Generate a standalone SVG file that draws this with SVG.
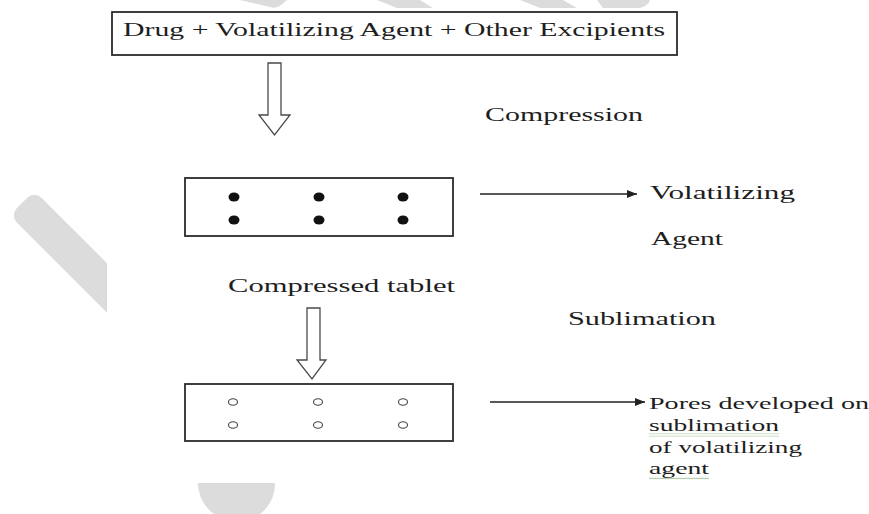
<svg xmlns="http://www.w3.org/2000/svg" width="869" height="514" viewBox="0 0 869 514">
  <style>
    .lbl { font-family: "Liberation Serif", "Times New Roman", serif; font-size: 19px; fill: #1e1e1e; }
    .note { font-family: "Liberation Serif", "Times New Roman", serif; font-size: 17.5px; fill: #1e1e1e; }
    .box { fill: #fff; stroke: #2b2b2b; stroke-width: 1.8; }
    .hollow { fill: #fff; stroke: #4a4a4a; stroke-width: 1.3; stroke-linejoin: miter; }
    .wire { stroke: #222; stroke-width: 1.4; fill: none; }
    .dot { fill: #111; }
    .pore { fill: none; stroke: #444; stroke-width: 1.1; }
    .mark { fill: #dcdcdc; }
  </style>
  <defs>
    <marker id="tip" viewBox="0 0 10 8" refX="10" refY="4" markerUnits="userSpaceOnUse" markerWidth="12" markerHeight="8" orient="auto">
      <path d="M0 0 L10 4 L0 8 Z" fill="#222"/>
    </marker>
    <pattern id="squiggle" patternUnits="userSpaceOnUse" x="649" y="0" width="3" height="3">
      <path d="M0 0.6 L1.5 2.2 L3 0.6" fill="none" stroke="#6f9f60" stroke-width="0.8"/>
    </pattern>
    <clipPath id="leftCut">
      <rect x="0" y="0" width="107" height="514"/>
    </clipPath>
  </defs>

  <rect width="869" height="514" fill="#fff"/>

  <!-- light grey background strokes -->
  <g id="backdrop">
    <g clip-path="url(#leftCut)">
      <rect class="mark" x="0" y="-17.5" width="200" height="35" rx="10" transform="translate(22 203) rotate(45)"/>
    </g>
    <path class="mark" d="M198 483 L275 483 A38.5 38.5 0 0 1 260 514 L214 514 A38.5 38.5 0 0 1 198 483 Z"/>
    <path class="mark" d="M240 0 L287 0 L281 5 Q276 9 270 7 Z"/>
    <path class="mark" d="M377 0 L420 0 L433 8 L397 8 Z"/>
    <path class="mark" d="M520 0 L563 0 L577 8 L540 8 Z"/>
    <path class="mark" d="M597 0 L650 0 Q648 6 640 8 L603 8 Z"/>
  </g>

  <g id="mixture">
    <rect class="box" x="112" y="12" width="565" height="43"/>
    <text class="lbl" x="123" y="36" textLength="542" lengthAdjust="spacingAndGlyphs">Drug + Volatilizing Agent + Other Excipients</text>
  </g>

  <g id="compression-label">
    <text class="lbl" x="485" y="121" textLength="158" lengthAdjust="spacingAndGlyphs">Compression</text>
  </g>

  <g id="compressed-tablet">
    <rect class="box" x="185" y="178" width="268" height="58"/>
    <ellipse class="dot" cx="234" cy="197" rx="5.5" ry="4.5"/>
    <ellipse class="dot" cx="319" cy="197" rx="5.5" ry="4.5"/>
    <ellipse class="dot" cx="403" cy="197" rx="5.5" ry="4.5"/>
    <ellipse class="dot" cx="234" cy="220" rx="5.5" ry="4.5"/>
    <ellipse class="dot" cx="319" cy="220" rx="5.5" ry="4.5"/>
    <ellipse class="dot" cx="403" cy="220" rx="5.5" ry="4.5"/>
    <text class="lbl" x="228" y="292" textLength="227" lengthAdjust="spacingAndGlyphs">Compressed tablet</text>
  </g>

  <g id="agent-label">
    <text class="lbl" x="650" y="199" textLength="145" lengthAdjust="spacingAndGlyphs">Volatilizing</text>
    <text class="lbl" x="651" y="245" textLength="72" lengthAdjust="spacingAndGlyphs">Agent</text>
  </g>

  <g id="sublimation-label">
    <text class="lbl" x="568" y="325" textLength="148" lengthAdjust="spacingAndGlyphs">Sublimation</text>
  </g>

  <g id="porous-tablet">
    <rect class="box" x="185" y="384" width="268" height="57"/>
    <ellipse class="pore" cx="233" cy="402" rx="4.5" ry="3.3"/>
    <ellipse class="pore" cx="318" cy="402" rx="4.5" ry="3.3"/>
    <ellipse class="pore" cx="403" cy="402" rx="4.5" ry="3.3"/>
    <ellipse class="pore" cx="233" cy="425" rx="4.5" ry="3.3"/>
    <ellipse class="pore" cx="318" cy="425" rx="4.5" ry="3.3"/>
    <ellipse class="pore" cx="403" cy="425" rx="4.5" ry="3.3"/>
  </g>

  <g id="pores-label">
    <text class="note" x="649" y="409" textLength="220" lengthAdjust="spacingAndGlyphs">Pores developed on</text>
    <text class="note" x="649" y="431" textLength="130" lengthAdjust="spacingAndGlyphs">sublimation</text>
    <text class="note" x="649" y="453" textLength="153" lengthAdjust="spacingAndGlyphs">of volatilizing</text>
    <text class="note" x="649" y="474" textLength="60" lengthAdjust="spacingAndGlyphs">agent</text>
    <rect x="649" y="433.5" width="130" height="3" fill="url(#squiggle)"/>
    <rect x="649" y="476.5" width="60" height="3" fill="url(#squiggle)"/>
  </g>

  <g id="connectors">
    <path class="hollow" d="M268 63 L281 63 L281 115 L290 115 L274.5 135 L259 115 L268 115 Z"/>
    <path class="hollow" d="M307 308 L320 308 L320 360 L326 360 L312 379 L297 360 L307 360 Z"/>
    <line class="wire" x1="480" y1="194" x2="637" y2="194" marker-end="url(#tip)"/>
    <line class="wire" x1="490" y1="402" x2="645" y2="402" marker-end="url(#tip)"/>
  </g>
</svg>
